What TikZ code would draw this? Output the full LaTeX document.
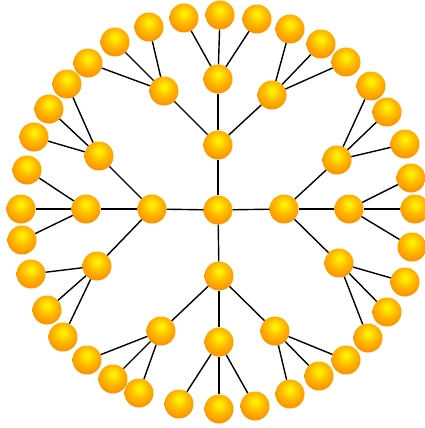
\documentclass[tikz,border=0pt]{standalone}
\definecolor{ballhi}{RGB}{255,240,0}
\definecolor{ballmid}{RGB}{255,185,0}
\definecolor{balledge}{RGB}{250,138,0}
\pgfdeclareradialshading{myball}{\pgfpoint{0bp}{8bp}}{%
  color(0bp)=(ballhi); color(3bp)=(ballhi); color(16bp)=(ballmid);
  color(32bp)=(balledge); color(100bp)=(balledge)}
\begin{document}
\begin{tikzpicture}[x=1pt,y=-1pt,
  ball/.style={circle,inner sep=0pt,minimum size=29pt,shading=myball},
  link/.style={line width=1.4pt,black}]
\useasboundingbox (0,0) rectangle (424,428);
% hubs
\node[ball] (C) at (218,210) {};
\node[ball] (U) at (218,145) {};
\node[ball] (L) at (152,209) {};
\node[ball] (R) at (284,209) {};
\node[ball] (D) at (219,276) {};
\node[ball] (UL) at (164,91) {};
\node[ball] (UM) at (218,79) {};
\node[ball] (UR) at (272,95) {};
\node[ball] (LU) at (99,156) {};
\node[ball] (LM) at (86,209) {};
\node[ball] (LD) at (97,266) {};
\node[ball] (RU) at (337,160) {};
\node[ball] (RM) at (349,209) {};
\node[ball] (RD) at (339,263) {};
\node[ball] (DL) at (161,331) {};
\node[ball] (DM) at (219,342) {};
\node[ball] (DR) at (275,331) {};
% leaves
\node[ball] (UL1) at (88,63) {};
\node[ball] (UL2) at (115,42) {};
\node[ball] (UL3) at (149,27) {};
\node[ball] (UM1) at (184,18) {};
\node[ball] (UM2) at (220,15) {};
\node[ball] (UM3) at (257,19) {};
\node[ball] (UR1) at (290,29) {};
\node[ball] (UR2) at (321,44) {};
\node[ball] (UR3) at (346,62) {};
\node[ball] (LU1) at (67,84) {};
\node[ball] (LU2) at (49,109) {};
\node[ball] (LU3) at (34,137) {};
\node[ball] (LM1) at (27,170) {};
\node[ball] (LM2) at (21,209) {};
\node[ball] (LM3) at (22,240) {};
\node[ball] (LD1) at (31,274) {};
\node[ball] (LD2) at (47,310) {};
\node[ball] (LD3) at (63,337) {};
\node[ball] (RU1) at (371,86) {};
\node[ball] (RU2) at (387,112) {};
\node[ball] (RU3) at (405,144) {};
\node[ball] (RM1) at (411,178) {};
\node[ball] (RM2) at (415,209) {};
\node[ball] (RM3) at (412,247) {};
\node[ball] (RD1) at (405,282) {};
\node[ball] (RD2) at (387,312) {};
\node[ball] (RD3) at (368,338) {};
\node[ball] (DL1) at (87,360) {};
\node[ball] (DL2) at (113,379) {};
\node[ball] (DL3) at (139,393) {};
\node[ball] (DM1) at (179,404) {};
\node[ball] (DM2) at (219,409) {};
\node[ball] (DM3) at (255,406) {};
\node[ball] (DR1) at (290,394) {};
\node[ball] (DR2) at (319,376) {};
\node[ball] (DR3) at (346,360) {};
% links
\foreach \a/\b in {C/U,C/L,C/R,C/D,
  U/UL,U/UM,U/UR,L/LU,L/LM,L/LD,R/RU,R/RM,R/RD,D/DL,D/DM,D/DR,
  UL/UL1,UL/UL2,UL/UL3,UM/UM1,UM/UM2,UM/UM3,UR/UR1,UR/UR2,UR/UR3,
  LU/LU1,LU/LU2,LU/LU3,LM/LM1,LM/LM2,LM/LM3,LD/LD1,LD/LD2,LD/LD3,
  RU/RU1,RU/RU2,RU/RU3,RM/RM1,RM/RM2,RM/RM3,RD/RD1,RD/RD2,RD/RD3,
  DL/DL1,DL/DL2,DL/DL3,DM/DM1,DM/DM2,DM/DM3,DR/DR1,DR/DR2,DR/DR3}
  \draw[link] (\a) -- (\b);
\end{tikzpicture}
\end{document}
